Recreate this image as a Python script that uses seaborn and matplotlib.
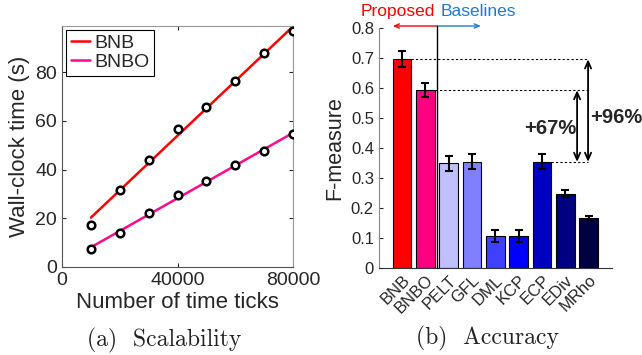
import numpy as np
import pandas as pd
import seaborn as sns
import matplotlib.pyplot as plt

# ---- (a) scalability: wall-clock time vs number of time ticks ----
n_ticks = [10000, 20000, 30000, 40000, 50000, 60000, 70000, 80000]
time_bnb = [17.4, 31.6, 44.0, 56.8, 65.6, 76.4, 87.8, 96.8]
time_bnbo = [7.5, 14.0, 22.1, 29.5, 35.2, 41.9, 47.8, 54.7]

# ---- (b) accuracy: F-measure per method ----
methods = ['BNB', 'BNBO', 'PELT', 'GFL', 'DML', 'KCP', 'ECP', 'EDiv', 'MRho']
fmeasure = [0.697, 0.594, 0.351, 0.356, 0.109, 0.109, 0.355, 0.249, 0.168]
fm_err = [0.026, 0.024, 0.025, 0.025, 0.020, 0.020, 0.025, 0.012, 0.006]

bar_colors = ['#ff0000', '#ff0080', '#c0c0ff', '#8080ff', '#4040ff',
              '#0000ff', '#0000c0', '#000080', '#000040']

sns.set_style('ticks')
plt.rcParams['font.family'] = ['Liberation Sans', 'DejaVu Sans']
plt.rcParams['xtick.color'] = '#262626'
plt.rcParams['ytick.color'] = '#262626'

fig = plt.figure(figsize=(6.42, 3.55), dpi=100)
ax1 = fig.add_axes([0.0966, 0.248, 0.360, 0.679])
ax2 = fig.add_axes([0.590, 0.244, 0.363, 0.676])

# -----------------------------
# left panel
# -----------------------------
df = pd.DataFrame({
    'n': n_ticks * 2,
    't': time_bnb + time_bnbo,
    'method': ['BNB'] * len(n_ticks) + ['BNBO'] * len(n_ticks),
})
line_cols = {'BNB': '#ff0000', 'BNBO': '#ff0a8c'}
for name, col in line_cols.items():
    sub = df[df['method'] == name]
    sns.regplot(data=sub, x='n', y='t', ax=ax1, ci=None, scatter=False,
                color=col, line_kws=dict(lw=1.8))
fit_lines = list(ax1.get_lines())
sns.scatterplot(data=df, x='n', y='t', ax=ax1, marker='o', color='white',
                edgecolor='black', linewidth=1.8, s=30, zorder=5, legend=False)

ax1.set_xlim(0, 80000)
ax1.set_ylim(0, 99)
ax1.set_xticks([0, 40000, 80000])
ax1.set_yticks([0, 20, 40, 60, 80])
ax1.tick_params(direction='in', length=3, labelsize=14, top=True, right=True)
ax1.set_xlabel('Number of time ticks', fontsize=16, color='#262626', labelpad=2)
ax1.set_ylabel('Wall-clock time (s)', fontsize=16, color='#262626', labelpad=4)
for s in ['left', 'bottom']:
    ax1.spines[s].set_color('#555555')
for s in ['top', 'right']:
    ax1.spines[s].set_color('#999999')
leg = ax1.legend(fit_lines, list(line_cols.keys()), loc='upper left', frameon=True,
                 fancybox=False, edgecolor='black', fontsize=14, handlelength=1.0,
                 handletextpad=0.2, borderpad=0.25, labelspacing=0.05,
                 borderaxespad=0.2, framealpha=1)
leg.get_frame().set_linewidth(0.8)

# -----------------------------
# right panel
# -----------------------------
sns.barplot(x=methods, y=fmeasure, hue=methods, palette=bar_colors, legend=False,
            saturation=1, edgecolor='black', linewidth=0.8, width=0.8,
            errorbar=None, ax=ax2)
xpos = np.arange(len(methods))
ax2.errorbar(xpos, fmeasure, yerr=fm_err, fmt='none', ecolor='black',
             elinewidth=1.5, capsize=3, capthick=1.5, zorder=5)

ax2.set_xlim(-1, 9)
ax2.set_ylim(0, 0.8)
ax2.set_yticks(np.arange(0, 0.81, 0.1))
ax2.yaxis.set_major_formatter(plt.FuncFormatter(lambda v, _: f'{v:g}'))
ax2.tick_params(axis='y', direction='in', length=3, labelsize=12)
ax2.tick_params(axis='x', length=0, labelsize=12, pad=3)
plt.setp(ax2.get_xticklabels(), rotation=45, ha='right', rotation_mode='anchor')
ax2.set_ylabel('F-measure', fontsize=15.5, color='#262626', labelpad=4)
ax2.set_xlabel('')
sns.despine(ax=ax2)
ax2.spines['left'].set_color('#888888')
ax2.spines['bottom'].set_color('#333333')

# proposed / baselines divider
ax2.plot([1.5, 1.5], [0, 0.808], color='black', lw=1, clip_on=False, zorder=6)
ax2.annotate('', xy=(-0.4, 0.808), xytext=(1.5, 0.808), annotation_clip=False,
             arrowprops=dict(arrowstyle='->,head_length=0.35,head_width=0.15',
                             color='#ff0000', lw=1, shrinkA=0, shrinkB=0))
ax2.annotate('', xy=(3.38, 0.808), xytext=(1.5, 0.808), annotation_clip=False,
             arrowprops=dict(arrowstyle='->,head_length=0.35,head_width=0.15',
                             color='#1f7bd0', lw=1, shrinkA=0, shrinkB=0))
ax2.text(-0.18, 0.855, 'Proposed', color='#ff0000', fontsize=12.5,
         ha='center', va='center', clip_on=False)
ax2.text(3.29, 0.855, 'Baselines', color='#1f7bd0', fontsize=12.5,
         ha='center', va='center', clip_on=False)

# improvement markers relative to best baseline (ECP)
best = fmeasure[6]
for i in [0, 1, 6]:
    ax2.plot([xpos[i] + 0.4, 7.98], [fmeasure[i], fmeasure[i]], color='black',
             lw=0.8, ls=(0, (2, 2)), clip_on=False)
for xa, top in [(7.51, fmeasure[1]), (7.98, fmeasure[0])]:
    ax2.annotate('', xy=(xa, top), xytext=(xa, best), annotation_clip=False,
                 arrowprops=dict(arrowstyle='<->,head_length=0.5,head_width=0.22',
                                 color='black', lw=1.3, shrinkA=0, shrinkB=0))
ax2.text(6.34, 0.467, f'+{(fmeasure[1] / best - 1) * 100:.0f}%', fontsize=14.5,
         fontweight='bold', ha='center', va='center')
ax2.text(9.17, 0.502, f'+{(fmeasure[0] / best - 1) * 100:.0f}%', fontsize=14.5,
         fontweight='bold', ha='center', va='center', clip_on=False)

# captions
fig.text(164 / 642, 1 - 340 / 355, '(a)  Scalability', family='cmr10',
         fontsize=17, ha='center', va='center', color='#222222')
fig.text(488 / 642, 1 - 338 / 355, '(b)  Accuracy', family='cmr10',
         fontsize=17, ha='center', va='center', color='#222222')

fig.savefig('out.png', dpi=100)
